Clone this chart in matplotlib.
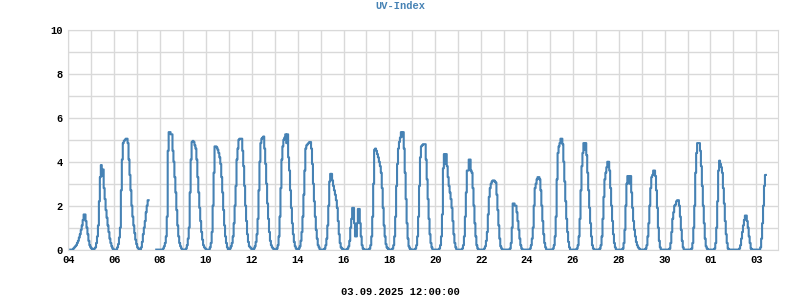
import datetime as dt
import numpy as np
from matplotlib import pyplot as plt
from matplotlib.ticker import MultipleLocator

# hours counted from 04.08.2025 00:00
first_day = dt.date(2025, 8, 4)
first_hour = 2
last_hour = 729
gap_hours = (84, 91)   # no data

# each day: hour of first reading above zero, then hourly UV values
cycle_start = [5, 27, 51, 76, 99, 123, 148, 169, 194, 218, 241, 268, 292, 315,
               339, 363, 388, 412, 435, 462, 483, 507, 532, 556, 580, 604, 629,
               652, 676, 702, 724]
cycle_uv = [
    [0.05, 0.1, 0.15, 0.2, 0.3, 0.4, 0.55, 0.7, 0.9, 1.1, 1.35, 1.6, 1.6, 1.3, 1.0, 0.7, 0.4, 0.2, 0.1, 0.05],
    [0.05, 0.1, 0.3, 0.6, 1.1, 2.2, 3.3, 3.85, 3.35, 3.65, 2.8, 2.3, 1.8, 1.45, 1.1, 0.8, 0.5, 0.3, 0.15, 0.05],
    [0.1, 0.25, 0.55, 1.0, 2.7, 4.1, 4.85, 4.95, 5.0, 5.05, 5.05, 4.85, 4.1, 3.4, 2.7, 2.0, 1.5, 1.1, 0.75, 0.45, 0.25, 0.1, 0.05],
    [0.1, 0.35, 0.7, 1.0, 1.3, 1.7, 2.0, 2.25],
    [0.05, 0.15, 0.3, 0.6, 1.5, 4.5, 5.35, 5.35, 5.25, 5.25, 4.5, 4.0, 3.3, 2.6, 1.8, 1.1, 0.6, 0.3, 0.15, 0.05],
    [0.05, 0.2, 0.5, 1.0, 2.6, 4.1, 4.9, 4.95, 4.9, 4.75, 4.6, 4.1, 3.3, 2.6, 1.9, 1.3, 0.8, 0.45, 0.2, 0.1, 0.05],
    [0.1, 0.3, 0.8, 2.0, 3.5, 4.7, 4.7, 4.65, 4.55, 4.4, 4.2, 3.9, 3.3, 2.6, 1.8, 1.1, 0.6, 0.3, 0.1],
    [0.05, 0.15, 0.3, 0.6, 1.2, 2.0, 2.9, 4.1, 4.6, 5.0, 5.05, 5.05, 5.05, 4.5, 3.8, 2.9, 2.0, 1.3, 0.7, 0.35, 0.15, 0.1, 0.05],
    [0.05, 0.15, 0.35, 0.7, 1.4, 2.7, 4.0, 4.85, 5.05, 5.1, 5.15, 4.6, 3.9, 3.0, 2.1, 1.4, 0.8, 0.4, 0.2, 0.1, 0.05],
    [0.05, 0.2, 0.6, 1.5, 2.8, 4.1, 4.7, 5.0, 5.1, 5.25, 4.85, 5.25, 4.2, 3.6, 2.7, 1.9, 1.2, 0.7, 0.35, 0.15, 0.05],
    [0.05, 0.15, 0.4, 0.8, 1.5, 2.5, 3.6, 4.6, 4.75, 4.8, 4.85, 4.9, 4.9, 4.6, 3.9, 3.0, 2.2, 1.5, 0.9, 0.5, 0.2, 0.1],
    [0.05, 0.2, 0.5, 1.1, 2.0, 3.1, 3.45, 3.45, 3.15, 2.9, 2.7, 2.5, 2.25, 1.9, 1.3, 0.7, 0.3, 0.1, 0.05],
    [0.05, 0.15, 0.4, 1.0, 1.4, 1.9, 1.9, 1.2, 0.6, 0.6, 1.2, 1.85, 1.85, 1.2, 0.6, 0.2, 0.05],
    [0.05, 0.2, 0.6, 1.5, 3.0, 4.55, 4.6, 4.5, 4.35, 4.2, 4.0, 3.8, 3.5, 2.8, 1.9, 1.1, 0.6, 0.25, 0.1, 0.05],
    [0.05, 0.2, 0.6, 1.5, 2.9, 3.9, 4.6, 4.9, 5.1, 5.35, 5.15, 5.35, 4.6, 3.5, 2.3, 1.2, 0.5, 0.15, 0.05],
    [0.05, 0.2, 0.6, 1.5, 2.9, 4.2, 4.7, 4.75, 4.8, 4.8, 4.8, 4.1, 3.2, 2.3, 1.4, 0.7, 0.3, 0.1],
    [0.05, 0.2, 0.6, 1.6, 3.7, 4.35, 3.9, 4.35, 3.8, 3.3, 2.9, 2.6, 2.3, 1.9, 1.3, 0.7, 0.3, 0.1],
    [0.05, 0.2, 0.6, 1.5, 2.6, 3.6, 3.6, 4.1, 4.1, 3.6, 3.5, 2.8, 2.0, 1.2, 0.6, 0.2, 0.05],
    [0.05, 0.15, 0.4, 0.8, 1.6, 2.4, 2.8, 3.0, 3.1, 3.15, 3.15, 3.1, 3.05, 2.5, 1.8, 1.1, 0.5, 0.15, 0.05],
    [0.05, 0.3, 1.0, 2.1, 2.1, 2.0, 2.0, 1.7, 1.3, 0.9, 0.5, 0.2, 0.05],
    [0.05, 0.2, 0.5, 1.0, 2.0, 2.8, 3.0, 3.2, 3.3, 3.3, 3.2, 2.7, 2.0, 1.3, 0.7, 0.3, 0.1],
    [0.05, 0.2, 0.6, 1.5, 3.2, 4.4, 4.7, 4.85, 5.05, 5.05, 4.8, 4.0, 3.1, 2.2, 1.4, 0.8, 0.35, 0.1],
    [0.05, 0.2, 0.6, 1.4, 2.7, 3.8, 4.4, 4.85, 4.55, 4.85, 4.3, 3.5, 2.7, 1.9, 1.2, 0.6, 0.2, 0.05],
    [0.05, 0.2, 0.6, 1.4, 2.4, 3.2, 3.5, 3.75, 4.0, 4.0, 3.6, 2.8, 2.0, 1.3, 0.7, 0.3, 0.1],
    [0.05, 0.3, 0.9, 2.0, 3.0, 3.35, 3.35, 3.0, 3.35, 2.6, 1.9, 1.3, 0.9, 0.6, 0.35, 0.2, 0.1, 0.05],
    [0.05, 0.2, 0.6, 1.2, 2.0, 2.8, 3.3, 3.4, 3.6, 3.6, 3.35, 2.7, 1.9, 1.0, 0.4, 0.1],
    [0.05, 0.3, 0.8, 1.4, 1.7, 2.0, 2.05, 2.2, 2.25, 2.25, 2.0, 1.5, 0.9, 0.4, 0.1],
    [0.05, 0.3, 1.0, 2.0, 3.5, 4.4, 4.85, 4.85, 4.85, 4.5, 3.8, 2.9, 2.0, 1.2, 0.5, 0.15, 0.05],
    [0.05, 0.3, 1.0, 2.2, 3.6, 4.05, 3.9, 3.75, 3.5, 2.8, 2.1, 1.3, 0.7, 0.3, 0.05],
    [0.05, 0.2, 0.5, 0.8, 1.1, 1.35, 1.55, 1.55, 1.3, 1.0, 0.6, 0.3, 0.05],
    [0.1, 0.5, 1.2, 2.0, 2.9, 3.4],
]

title = 'UV-Index'
footer = '03.09.2025 12:00:00'


def build_series():
    hours = np.arange(first_hour, last_hour + 1)
    uv = np.zeros(len(hours))
    for start, vals in zip(cycle_start, cycle_uv):
        i = start - first_hour
        uv[i:i + len(vals)] = vals
    uv[(hours >= gap_hours[0]) & (hours <= gap_hours[1])] = np.nan
    # repeat last value so the final step gets drawn
    return np.append(hours, hours[-1] + 1), np.append(uv, uv[-1])


def main():
    line_col = '#4682b4'
    grid_col = '#d9d9d9'
    font = dict(family=['Liberation Mono', 'DejaVu Sans Mono'], weight='bold', size=7.5)

    fig = plt.figure(figsize=(8, 3), dpi=100)
    ax = fig.add_axes([0.0854, 0.168, 0.8875, 0.732])

    hours, uv = build_series()
    ax.plot(hours, uv, drawstyle='steps-post', color=line_col, lw=1.5, zorder=3)

    n_days = 31
    ticks = np.arange(0, n_days * 24, 48)
    labels = [(first_day + dt.timedelta(hours=int(h))).strftime('%d') for h in ticks]
    ax.set_xticks(ticks)
    ax.set_xticklabels(labels, fontdict=font)
    ax.xaxis.set_minor_locator(MultipleLocator(24))
    ax.set_xlim(0, 743)

    ax.set_ylim(0, 10)
    ax.set_yticks(np.arange(0, 11, 2))
    ax.set_yticklabels([str(v) for v in range(0, 11, 2)], fontdict=font)
    ax.yaxis.set_minor_locator(MultipleLocator(1))

    ax.grid(which='both', color=grid_col, lw=1)
    ax.set_axisbelow(True)
    ax.tick_params(which='both', length=0, pad=4)
    for s in ax.spines.values():
        s.set_color(grid_col)

    fig.text(0.5, 0.98, title, ha='center', va='center', color=line_col, **font)
    fig.text(0.5, 0.027, footer, ha='center', va='center', color='black', **font)

    fig.savefig('out.png', dpi=100)


if __name__ == '__main__':
    main()
